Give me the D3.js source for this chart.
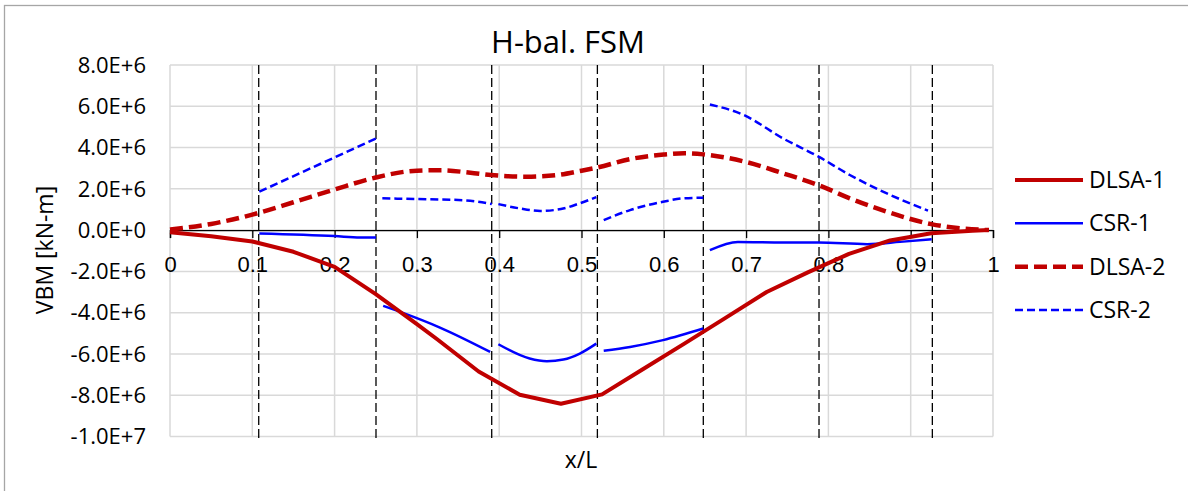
<!DOCTYPE html>
<html>
<head>
<meta charset="utf-8">
<script src="https://cdn.jsdelivr.net/npm/d3@7"></script>
<style>
  html, body { margin: 0; padding: 0; background: #fff; }
  svg { display: block; font-family: "Open Sans", "Noto Sans", sans-serif; }
</style>
</head>
<body>
<div id="chart"></div>
<script>
// values in units of 1e6 kN-m, x as x/L
const xTicks = [0, 0.1, 0.2, 0.3, 0.4, 0.5, 0.6, 0.7, 0.8, 0.9, 1];
const xTickLabels = ['0', '0.1', '0.2', '0.3', '0.4', '0.5', '0.6', '0.7', '0.8', '0.9', '1'];
const yTicks = [8, 6, 4, 2, 0, -2, -4, -6, -8, -10];
const yTickLabels = ['8.0E+6', '6.0E+6', '4.0E+6', '2.0E+6', '0.0E+0', '-2.0E+6', '-4.0E+6', '-6.0E+6', '-8.0E+6', '-1.0E+7'];

// section boundaries (black dashed verticals)
const sectionBreaks = [0.1078, 0.2503, 0.3909, 0.5193, 0.648, 0.7886, 0.9263];

const dlsa1 = [[0, -0.1], [0.05, -0.3], [0.1, -0.55], [0.15, -1.05], [0.2, -1.78], [0.25, -3.1],
  [0.3, -4.55], [0.325, -5.3], [0.375, -6.85], [0.425, -7.98], [0.475, -8.41], [0.525, -7.96],
  [0.575, -6.73], [0.625, -5.5], [0.675, -4.25], [0.725, -3.0], [0.775, -2.05], [0.825, -1.15],
  [0.875, -0.5], [0.925, -0.15], [0.975, -0.03], [0.995, 0]];

const dlsa2 = [[0, 0.03], [0.05, 0.3], [0.1, 0.75], [0.15, 1.35], [0.2, 1.97], [0.25, 2.55],
  [0.3, 2.88], [0.33, 2.9], [0.365, 2.78], [0.39, 2.67], [0.433, 2.59], [0.47, 2.67], [0.5, 2.88],
  [0.52, 3.04], [0.56, 3.45], [0.6, 3.66], [0.625, 3.72], [0.648, 3.67], [0.7, 3.3], [0.745, 2.75],
  [0.788, 2.18], [0.826, 1.54], [0.871, 0.89], [0.925, 0.29], [0.995, 0]];

// null = break between sections
const csr1 = [[0.1085, -0.16], [0.2, -0.29], [0.231, -0.36], [0.2503, -0.36], null,
  [0.259, -3.67], [0.283, -4.01], [0.328, -4.72], [0.389, -5.9], null,
  [0.399, -5.53], [0.437, -6.22], [0.458, -6.35], [0.478, -6.27], [0.498, -5.98], [0.518, -5.5], null,
  [0.527, -5.85], [0.559, -5.66], [0.599, -5.33], [0.648, -4.77], null,
  [0.656, -0.97], [0.69, -0.57], [0.745, -0.6], [0.788, -0.6], [0.847, -0.68], [0.887, -0.57], [0.9255, -0.44]];

const csr2 = [[0.1085, 1.86], [0.2503, 4.44], null,
  [0.258, 1.54], [0.316, 1.49], [0.356, 1.45], [0.391, 1.26], null,
  [0.399, 1.26], [0.425, 1.05], [0.45, 0.93], [0.475, 1.02], [0.498, 1.3], [0.518, 1.6], null,
  [0.527, 0.48], [0.559, 0.97], [0.599, 1.37], [0.624, 1.54], [0.648, 1.57], null,
  [0.656, 6.09], [0.697, 5.58], [0.745, 4.44], [0.788, 3.56], [0.826, 2.67], [0.871, 1.78], [0.921, 0.94]];

const seriesNames = ['DLSA-1', 'CSR-1', 'DLSA-2', 'CSR-2'];

const width = 1188, height = 491;
const plot = { left: 170, right: 993, top: 65, bottom: 436.5 };

const svg = d3.select('#chart').append('svg')
  .attr('width', width).attr('height', height);

// outer chart border (only top/left visible)
svg.append('rect')
  .attr('x', 4.5).attr('y', 5.5).attr('width', 1300).attr('height', 600)
  .attr('fill', 'none').attr('stroke', '#a6a6a6').attr('stroke-width', 1.3);

const x = d3.scaleLinear().domain([0, 1]).range([plot.left, plot.right]);
const y = d3.scaleLinear().domain([-10, 8]).range([plot.bottom, plot.top]);

/* ---------- gridlines ---------- */
const grid = svg.append('g').attr('stroke', '#d9d9d9').attr('stroke-width', 1.5);
grid.selectAll('line.v').data(xTicks).join('line')
  .attr('class', 'v')
  .attr('x1', d => x(d)).attr('x2', d => x(d))
  .attr('y1', plot.top).attr('y2', plot.bottom);
grid.selectAll('line.h').data(yTicks).join('line')
  .attr('class', 'h')
  .attr('x1', plot.left).attr('x2', plot.right)
  .attr('y1', d => y(d)).attr('y2', d => y(d));

/* ---------- x axis at zero ---------- */
const xAxis = d3.axisBottom(x)
  .tickValues(xTicks)
  .tickSize(8)
  .tickFormat((d, i) => xTickLabels[i]);
const gx = svg.append('g')
  .attr('transform', `translate(0,${y(0)})`)
  .call(xAxis);
gx.select('.domain').attr('stroke', '#000').attr('stroke-width', 1.3);
gx.selectAll('.tick line').attr('stroke', '#000').attr('stroke-width', 1.3);
gx.selectAll('.tick text')
  .attr('y', 0).attr('dy', '1.92em')
  .attr('font-size', 22).attr('font-family', null).attr('fill', '#000');

/* ---------- y tick labels ---------- */
svg.append('g').selectAll('text').data(yTicks).join('text')
  .attr('x', 146).attr('y', d => y(d)).attr('dy', '0.35em')
  .attr('text-anchor', 'end').attr('font-size', 22).attr('fill', '#000')
  .text((d, i) => yTickLabels[i]);

/* ---------- section breaks ---------- */
svg.append('g').selectAll('line').data(sectionBreaks).join('line')
  .attr('x1', d => x(d)).attr('x2', d => x(d))
  .attr('y1', plot.top).attr('y2', plot.bottom + 3)
  .attr('stroke', '#000').attr('stroke-width', 1.3)
  .attr('stroke-dasharray', '9,4');

/* ---------- series ---------- */
const red = '#c00000', blue = '#0000ff';
const styles = {
  'DLSA-1': { data: dlsa1, color: red, w: 4, dash: null, curve: d3.curveLinear },
  'CSR-1': { data: csr1, color: blue, w: 2.5, dash: null, curve: d3.curveMonotoneX },
  'DLSA-2': { data: dlsa2, color: red, w: 4.5, dash: '13,6', curve: d3.curveMonotoneX },
  'CSR-2': { data: csr2, color: blue, w: 2.5, dash: '8,4', curve: d3.curveMonotoneX },
};

const drawOrder = ['DLSA-2', 'CSR-2', 'CSR-1', 'DLSA-1'];
for (const name of drawOrder) {
  const s = styles[name];
  const line = d3.line()
    .defined(d => d !== null)
    .x(d => x(d[0]))
    .y(d => y(d[1]))
    .curve(s.curve);
  svg.append('path')
    .attr('d', line(s.data))
    .attr('fill', 'none')
    .attr('stroke', s.color)
    .attr('stroke-width', s.w)
    .attr('stroke-dasharray', s.dash)
    .attr('stroke-linejoin', 'round');
}

/* ---------- titles ---------- */
svg.append('text')
  .attr('x', 568).attr('y', 53).attr('text-anchor', 'middle')
  .attr('font-size', 31).attr('fill', '#000')
  .text('H-bal. FSM');

svg.append('text')
  .attr('x', 581).attr('y', 468).attr('text-anchor', 'middle')
  .attr('font-size', 23).attr('fill', '#000')
  .text('x/L');

svg.append('text')
  .attr('transform', 'translate(53,250) rotate(-90)')
  .attr('text-anchor', 'middle')
  .attr('font-size', 23).attr('fill', '#000')
  .text('VBM [kN-m]');

/* ---------- legend ---------- */
const legend = svg.append('g');
const legendY = d3.scalePoint().domain(seriesNames).range([180, 310]);
seriesNames.forEach(name => {
  const s = styles[name];
  const ly = legendY(name);
  legend.append('line')
    .attr('x1', 1015).attr('x2', 1083).attr('y1', ly).attr('y2', ly)
    .attr('stroke', s.color).attr('stroke-width', s.w)
    .attr('stroke-dasharray', s.dash);
  legend.append('text')
    .attr('x', 1089).attr('y', ly).attr('dy', '0.35em')
    .attr('font-size', 23).attr('fill', '#000')
    .text(name);
});
</script>
</body>
</html>
